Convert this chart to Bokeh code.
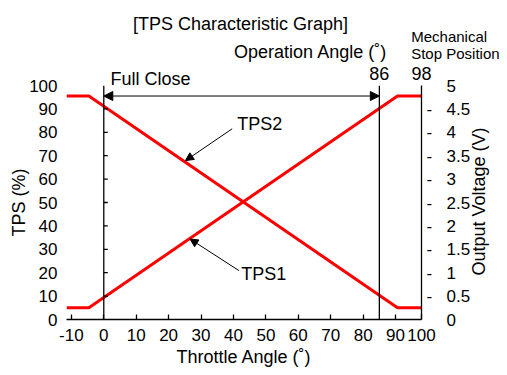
import math
from bokeh.plotting import figure
from bokeh.models import (Range1d, LinearAxis, FixedTicker, Label, Arrow, Title,
                          NormalHead, ColumnDataSource)
from bokeh.embed import file_html
from bokeh.resources import INLINE

FONT = "Liberation Sans"

# ---- data ----
throttle_tps1 = [-11.5, -4.6, 90.6, 98.0]
tps1 = [5.0, 5.0, 95.5, 95.5]
throttle_tps2 = [-11.5, -4.6, 90.6, 98.0]
tps2 = [95.5, 95.5, 5.0, 5.0]

full_close_angle = 0
operation_line_angle = 85
operation_angle_text = "86"
stop_angle = 98
stop_angle_text = "98"
arrow_level = 95.5

x_ticks = [-10, 0, 10, 20, 30, 40, 50, 60, 70, 80, 90, 98]
x_tick_labels = ["-10", "0", "10", "20", "30", "40", "50", "60", "70", "80", "90", "100"]
y_ticks = [0, 10, 20, 30, 40, 50, 60, 70, 80, 90, 100]
y_tick_labels = ["0", "10", "20", "30", "40", "50", "60", "70", "80", "90", "100"]
volt_ticks = [0, 0.5, 1, 1.5, 2, 2.5, 3, 3.5, 4, 4.5, 5]
volt_tick_labels = ["0", "0.5", "1", "1.5", "2", "2.5", "3", "3.5", "4", "4.5", "5"]

# header / side texts (anchor positions on the axis scales)
full_close_ticks = [14.4]
full_close_labels = ["Full Close"]
angle_ticks = [operation_line_angle, stop_angle, 63.8]
angle_labels = [operation_angle_text, stop_angle_text, "Operation Angle (˚)\n\u00a0"]
title_ticks = [42.2]
title_labels = ["[TPS Characteristic Graph]"]
volt_title_ticks = [0.94]
volt_title_labels = ["Output Voltage (V)"]

p = figure(width=507, height=375, title=None,
           x_range=Range1d(-11.5, stop_angle), y_range=Range1d(0, 100),
           output_backend="svg", toolbar_location=None,
           x_axis_location=None, y_axis_location=None,
           min_border_left=66, min_border_right=86,
           min_border_top=0, min_border_bottom=56)
p.extra_y_ranges = {"volt": Range1d(0, 5)}
p.grid.visible = False
p.outline_line_color = None
p.background_fill_color = "white"
p.border_fill_color = "white"


def style_axis(ax, size="17px"):
    ax.major_label_text_font = FONT
    ax.major_label_text_font_size = size
    ax.major_label_text_color = "black"
    ax.axis_label_text_font = FONT
    ax.axis_label_text_font_size = "18px"
    ax.axis_label_text_font_style = "normal"
    ax.axis_label_text_color = "black"
    ax.axis_line_color = "black"
    ax.axis_line_width = 1.3
    ax.major_tick_line_color = "black"
    ax.major_tick_line_width = 1.3
    ax.minor_tick_line_color = None


def bare(ax):
    ax.axis_line_color = None
    ax.major_tick_line_color = None
    ax.major_tick_in = 0
    ax.major_tick_out = 0


# bottom axis
xaxis = LinearAxis(ticker=FixedTicker(ticks=x_ticks),
                   major_label_overrides=dict(zip(x_ticks, x_tick_labels)),
                   axis_label="Throttle Angle (˚)")
style_axis(xaxis)
xaxis.major_tick_in = 5
xaxis.major_tick_out = 0
xaxis.major_label_standoff = 9
xaxis.axis_label_standoff = 3
p.add_layout(xaxis, "below")

# left axis (labels only)
yaxis = LinearAxis(ticker=FixedTicker(ticks=y_ticks),
                   major_label_overrides=dict(zip(y_ticks, y_tick_labels)),
                   axis_label="TPS (%)")
style_axis(yaxis)
bare(yaxis)
yaxis.major_label_standoff = 9
yaxis.axis_label_standoff = -3
p.add_layout(yaxis, "left")

# right axis: line + dash marks
dash_labels = ["" if (v == volt_ticks[0] or v == volt_ticks[-1]) else "-" for v in volt_ticks]
raxis1 = LinearAxis(y_range_name="volt", ticker=FixedTicker(ticks=volt_ticks),
                    major_label_overrides=dict(zip(volt_ticks, dash_labels)))
style_axis(raxis1)
raxis1.major_tick_line_color = None
raxis1.major_tick_in = 0
raxis1.major_tick_out = 0
raxis1.major_label_standoff = 5
p.add_layout(raxis1, "right")

# right axis: numbers
raxis2 = LinearAxis(y_range_name="volt", ticker=FixedTicker(ticks=volt_ticks),
                    major_label_overrides=dict(zip(volt_ticks, volt_tick_labels)))
style_axis(raxis2)
bare(raxis2)
raxis2.major_label_standoff = 11
p.add_layout(raxis2, "right")

# right axis: rotated title, reading upwards
raxis3 = LinearAxis(y_range_name="volt", ticker=FixedTicker(ticks=volt_title_ticks),
                    major_label_overrides=dict(zip(volt_title_ticks, volt_title_labels)),
                    major_label_orientation=math.pi / 2)
style_axis(raxis3, size="18px")
bare(raxis3)
raxis3.major_label_standoff = 6
p.add_layout(raxis3, "right")

# header row: Full Close
fc_axis = LinearAxis(ticker=FixedTicker(ticks=full_close_ticks),
                     major_label_overrides=dict(zip(full_close_ticks, full_close_labels)))
style_axis(fc_axis, size="18px")
bare(fc_axis)
fc_axis.major_label_standoff = -3
p.add_layout(fc_axis, "above")

# header row: 86 / 98 / Operation Angle
angle_axis = LinearAxis(ticker=FixedTicker(ticks=angle_ticks),
                        major_label_overrides=dict(zip(angle_ticks, angle_labels)))
style_axis(angle_axis, size="18px")
bare(angle_axis)
angle_axis.major_label_text_line_height = 1.08
angle_axis.major_label_standoff = -18
p.add_layout(angle_axis, "above")

# header: Mechanical / Stop Position (two leading blank lines)
p.add_layout(Title(text="\u00a0\n\u00a0\nMechanical\nStop Position", align="left", offset=344.7,
                   vertical_align="middle", standoff=-48,
                   text_font=FONT, text_font_size="15px", text_font_style="normal",
                   text_color="black", text_line_height=1.0), "above")

# header: chart title
title_axis = LinearAxis(ticker=FixedTicker(ticks=title_ticks),
                        major_label_overrides=dict(zip(title_ticks, title_labels)))
style_axis(title_axis, size="18px")
bare(title_axis)
title_axis.major_label_standoff = -17
p.add_layout(title_axis, "above")

# filler above everything
p.add_layout(Title(text="\u00a0", text_font=FONT, text_font_size="6px", standoff=2), "above")

# curves
p.line(throttle_tps1, tps1, line_color="#ff0000", line_width=3)
p.line(throttle_tps2, tps2, line_color="#ff0000", line_width=3)

# vertical reference lines
vsrc = ColumnDataSource(dict(x=[full_close_angle, operation_line_angle],
                             y0=[y_ticks[0], y_ticks[0]], y1=[y_ticks[-1], y_ticks[-1]]))
p.segment(x0="x", y0="y0", x1="x", y1="y1", source=vsrc, line_color="black", line_width=1.3)

# small tick marks on the full-close line
tick_len = 4 / 3.239
inner = y_ticks[1:-1]
tsrc = ColumnDataSource(dict(x0=[full_close_angle] * len(inner),
                             x1=[full_close_angle + tick_len] * len(inner), y=inner))
p.segment(x0="x0", y0="y", x1="x1", y1="y", source=tsrc, line_color="black", line_width=1.3)

# operation range double arrow
p.add_layout(Arrow(start=NormalHead(size=9, fill_color="black", line_color="black"),
                   end=NormalHead(size=9, fill_color="black", line_color="black"),
                   x_start=full_close_angle, y_start=arrow_level,
                   x_end=operation_line_angle, y_end=arrow_level,
                   line_color="black", line_width=1))

# pointer arrows
p.add_layout(Arrow(end=NormalHead(size=8, fill_color="black", line_color="black"),
                   x_start=39.6, y_start=81.5, x_end=25.2, y_end=67.9,
                   line_color="black", line_width=1))
p.add_layout(Arrow(end=NormalHead(size=8, fill_color="black", line_color="black"),
                   x_start=41.7, y_start=20.9, x_end=26.6, y_end=34.4,
                   line_color="black", line_width=1))


def add_text(txt, x, y, size="18px", align="left"):
    p.add_layout(Label(x=x, y=y, text=txt, text_font=FONT, text_font_size=size,
                       text_align=align, text_baseline="middle", text_color="black"))


add_text("TPS2", 41.2, 83.7)
add_text("TPS1", 42.4, 19.4)

open("out.html", "w").write(file_html(p, INLINE))
